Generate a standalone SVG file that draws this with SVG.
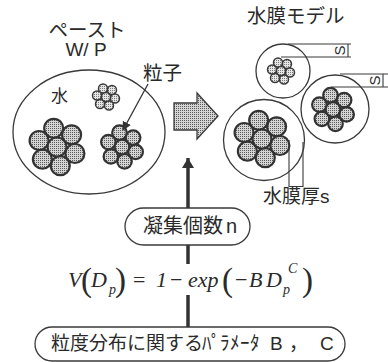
<svg xmlns="http://www.w3.org/2000/svg" width="388" height="362" viewBox="0 0 388 362">
  <defs>
    <!-- halftone screen used for particles and the transfer arrow -->
    <pattern id="dots" width="2" height="2" patternUnits="userSpaceOnUse">
      <rect width="2" height="2" fill="#d4d4d4"/>
      <rect width="1" height="1" fill="#5a5a5a"/>
    </pattern>
    <pattern id="dotsLight" width="2" height="2" patternUnits="userSpaceOnUse">
      <rect width="2" height="2" fill="#e6e6e6"/>
      <rect width="1" height="1" fill="#7a7a7a"/>
    </pattern>
    <marker id="head" viewBox="0 0 10 10" refX="9" refY="5" markerWidth="9" markerHeight="9" markerUnits="userSpaceOnUse" orient="auto">
      <path d="M0,0 L10,5 L0,10 Z" fill="#333"/>
    </marker>
    <marker id="headBig" viewBox="0 0 10 12" refX="10" refY="6" markerWidth="14" markerHeight="12" markerUnits="userSpaceOnUse" orient="auto">
      <path d="M0,0 L10,6 L0,12 Z" fill="#333"/>
    </marker>
  </defs>
  <style>
    .jp { font-family: "Liberation Sans", "Noto Sans CJK JP", sans-serif; fill: #2a2a2a; }
    .kana { font-family: "Noto Sans CJK JP", sans-serif; }
    .math { font-family: "Liberation Serif", serif; font-style: italic; fill: #2a2a2a; }
    .up { font-family: "Liberation Serif", serif; font-style: normal; fill: #2a2a2a; }
    .outline { fill: #fff; stroke: #3a3a3a; stroke-width: 1.3; }
    .p { fill: url(#dots); stroke: #333; stroke-width: 2.2; }
    .ps { fill: url(#dotsLight); stroke: #3a3a3a; stroke-width: 1.5; }
    .dim { fill: none; stroke: #3a3a3a; stroke-width: 1.1; }
    .conn { fill: none; stroke: #333; stroke-width: 3.5; }
    .box { fill: #fff; stroke: #3a3a3a; stroke-width: 1.3; }
  </style>

  <!-- paste: water with particle clusters -->
  <g id="paste">
    <text class="jp" x="87" y="37" font-size="19.5" text-anchor="middle">ペースト</text>
    <text class="jp" x="86" y="56" font-size="19" text-anchor="middle">W/ P</text>
    <ellipse class="outline" cx="89" cy="132" rx="76" ry="62"/>
    <text class="jp" x="51" y="102" font-size="17">水</text>
    <!-- small cluster -->
    <g>
      <circle class="ps" cx="103" cy="88.5" r="4.5"/>
      <circle class="ps" cx="112" cy="90" r="4.5"/>
      <circle class="ps" cx="115" cy="98.5" r="4.5"/>
      <circle class="ps" cx="109" cy="105.5" r="4.5"/>
      <circle class="ps" cx="100" cy="104" r="4.5"/>
      <circle class="ps" cx="97" cy="95.5" r="4.5"/>
      <circle class="ps" cx="106" cy="97" r="4.5"/>
    </g>
    <!-- large cluster -->
    <g>
      <circle class="p" cx="53.7" cy="128.3" r="9.5"/>
      <circle class="p" cx="71.6" cy="134.8" r="9.5"/>
      <circle class="p" cx="74.9" cy="153.5" r="9.5"/>
      <circle class="p" cx="60.3" cy="165.7" r="9.5"/>
      <circle class="p" cx="42.4" cy="159.2" r="9.5"/>
      <circle class="p" cx="39.1" cy="140.5" r="9.5"/>
      <circle class="p" cx="57" cy="147" r="9.5"/>
    </g>
    <!-- medium cluster -->
    <g>
      <circle class="p" cx="119.5" cy="132.7" r="7.3"/>
      <circle class="p" cx="133.1" cy="137.6" r="7.3"/>
      <circle class="p" cx="135.6" cy="151.9" r="7.3"/>
      <circle class="p" cx="124.5" cy="161.3" r="7.3"/>
      <circle class="p" cx="110.9" cy="156.4" r="7.3"/>
      <circle class="p" cx="108.4" cy="142.1" r="7.3"/>
      <circle class="p" cx="122" cy="147" r="7.3"/>
    </g>
    <text class="jp" x="143" y="80" font-size="19.5">粒子</text>
  </g>

  <!-- transfer arrow -->
  <g id="transfer">
    <path d="M174,103 H197 V93 L218,116 L197,139 V130 H174 Z" fill="url(#dots)" stroke="#3a3a3a" stroke-width="1.3"/>
  </g>

  <!-- water film model -->
  <g id="film-model">
    <text class="jp" x="247" y="23" font-size="19.5">水膜モデル</text>
    <circle class="outline" cx="283" cy="71" r="27"/>
    <circle class="outline" cx="335" cy="109" r="34"/>
    <circle class="outline" cx="264" cy="140" r="40.5"/>
    <!-- cluster in the top film -->
    <g>
      <circle class="ps" cx="278" cy="62.5" r="4.5"/>
      <circle class="ps" cx="287" cy="64" r="4.5"/>
      <circle class="ps" cx="290" cy="72.5" r="4.5"/>
      <circle class="ps" cx="284" cy="79.5" r="4.5"/>
      <circle class="ps" cx="275" cy="78" r="4.5"/>
      <circle class="ps" cx="272" cy="69.5" r="4.5"/>
      <circle class="ps" cx="281" cy="71" r="4.5"/>
    </g>
    <!-- cluster in the right film -->
    <g>
      <circle class="p" cx="330.5" cy="95.2" r="7.3"/>
      <circle class="p" cx="344.1" cy="100.1" r="7.3"/>
      <circle class="p" cx="346.6" cy="114.4" r="7.3"/>
      <circle class="p" cx="335.5" cy="123.8" r="7.3"/>
      <circle class="p" cx="321.9" cy="118.9" r="7.3"/>
      <circle class="p" cx="319.4" cy="104.6" r="7.3"/>
      <circle class="p" cx="333" cy="109.5" r="7.3"/>
    </g>
    <!-- cluster in the lower film -->
    <g>
      <circle class="p" cx="258.7" cy="120.3" r="9.5"/>
      <circle class="p" cx="276.6" cy="126.8" r="9.5"/>
      <circle class="p" cx="279.9" cy="145.5" r="9.5"/>
      <circle class="p" cx="265.3" cy="157.7" r="9.5"/>
      <circle class="p" cx="247.4" cy="151.2" r="9.5"/>
      <circle class="p" cx="244.1" cy="132.5" r="9.5"/>
      <circle class="p" cx="262" cy="139" r="9.5"/>
    </g>
    <!-- film thickness dimensions -->
    <path class="dim" d="M288,44 H351 M281,57 H351 M348,44 V57"/>
    <text class="jp" font-size="15" transform="translate(345,50.5) rotate(-90)" text-anchor="middle">S</text>
    <path class="dim" d="M340,74 H388 M331,87 H388 M383,74 V87"/>
    <text class="jp" font-size="15" transform="translate(380,80.5) rotate(-90)" text-anchor="middle">S</text>
    <path class="dim" d="M289,140 V187 M303,142 V187 M289,186.5 H303"/>
    <text class="jp" x="263" y="203" font-size="19">水膜厚s</text>
  </g>

  <!-- aggregation number -->
  <g id="agg-count">
    <rect class="box" x="125" y="208" width="125" height="37" rx="18.5"/>
    <text class="jp" x="143" y="233" font-size="20">凝集個数<tspan x="226">n</tspan></text>
  </g>

  <!-- size distribution formula -->
  <g id="formula">
    <text class="math" x="68" y="287" font-size="22">V</text>
    <text class="up" x="81" y="291" font-size="33">(</text>
    <text class="math" x="91" y="287" font-size="22">D</text>
    <text class="math" x="109" y="294" font-size="14">p</text>
    <text class="up" x="115" y="291" font-size="33">)</text>
    <text class="up" x="133" y="287" font-size="22">=</text>
    <text class="math" x="156" y="287" font-size="22">1</text>
    <text class="up" x="170" y="287" font-size="22">−</text>
    <text class="math" x="188" y="287" font-size="22">exp</text>
    <text class="up" x="222" y="291" font-size="33">(</text>
    <text class="up" x="235" y="287" font-size="22">−</text>
    <text class="math" x="249" y="287" font-size="22">B</text>
    <text class="math" x="266" y="287" font-size="22">D</text>
    <text class="math" x="283" y="294" font-size="14">p</text>
    <text class="math" x="288" y="273" font-size="14">C</text>
    <text class="up" x="302" y="291" font-size="33">)</text>
  </g>

  <!-- distribution parameters -->
  <g id="params">
    <rect class="box" x="35" y="327" width="310" height="34" rx="17"/>
    <text class="jp" x="51" y="350" font-size="19">粒度分布に関する<tspan class="kana" x="202 211 220 230 240 250">ﾊﾟﾗﾒｰﾀ</tspan><tspan x="270">B</tspan><tspan x="289">，</tspan><tspan x="320">C</tspan></text>
  </g>

  <!-- connectors -->
  <g id="connectors">
    <line x1="148" y1="84" x2="123" y2="130" stroke="#333" stroke-width="1.3" marker-end="url(#head)"/>
    <line class="conn" x1="188" y1="208" x2="188" y2="158" marker-end="url(#headBig)"/>
    <line class="conn" x1="188" y1="245" x2="188" y2="264"/>
    <line class="conn" x1="188" y1="295" x2="188" y2="327"/>
  </g>
</svg>
